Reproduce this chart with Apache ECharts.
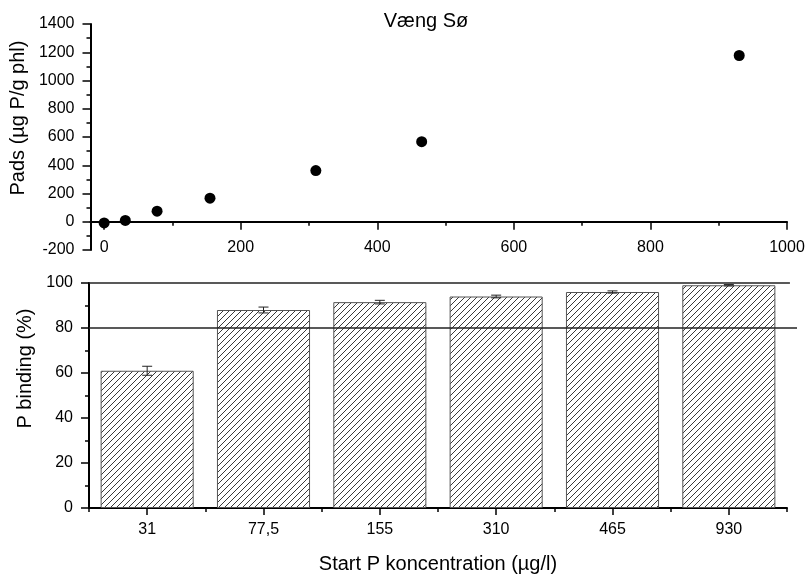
<!DOCTYPE html>
<html>
<head>
<meta charset="utf-8">
<script src="https://cdn.jsdelivr.net/npm/echarts@6/dist/echarts.min.js"></script>
<style>
  html, body { margin: 0; padding: 0; background: #fff; }
  #main { width: 809px; height: 575px; }
</style>
</head>
<body>
<div id="main"></div>
<script>
(function() {
  // data
  var startConc = [0, 31, 77.5, 155, 310, 465, 930];
  var pads = [-8, 9, 75, 167, 362, 567, 1177];
  var categories = ["31", "77,5", "155", "310", "465", "930"];
  var binding = [61, 88, 91.5, 94, 96, 99];
  var bindingErr = [2, 1.3, 0.8, 0.6, 0.5, 0.3];
  var refLines = [100, 80];
  var refLineEnds = [0.99, 1]; // share of the (slightly wider) overlay grid each line runs across
  var majorX = [0, 200, 400, 600, 800, 1000];
  var minorX = [100, 300, 500, 700, 900];

  var myChart = echarts.init(document.getElementById("main"));

  // diagonal hatching for the bars
  var hatch = (function() {
    var c = document.createElement("canvas");
    c.width = 6;
    c.height = 6;
    var g = c.getContext("2d");
    g.fillStyle = "#fff";
    g.fillRect(0, 0, 6, 6);
    g.strokeStyle = "#222";
    g.lineWidth = 0.9;
    g.beginPath();
    g.moveTo(0, 6); g.lineTo(6, 0);
    g.moveTo(-1, 1); g.lineTo(1, -1);
    g.moveTo(5, 7); g.lineTo(7, 5);
    g.stroke();
    return c;
  })();

  var font = "Liberation Sans, Arial, sans-serif";
  var axisLine = { lineStyle: { color: "#000", width: 2 } };
  var tickStyle = { color: "#000", width: 1.5 };
  var plain = function(v) { return String(v); };
  var labelStyle = { color: "#000", fontSize: 16, fontFamily: font, formatter: plain };

  var option = {
    animation: false,
    backgroundColor: "#fff",
    title: {
      text: "Væng Sø",
      left: 421,
      top: 6,
      textAlign: "center",
      textStyle: { color: "#000", fontWeight: "normal", fontSize: 20, fontFamily: font }
    },
    grid: [
      { left: 89, right: 22, top: 24, bottom: 325 },
      { left: 89, right: 22, top: 283, bottom: 67 },
      { left: 89, right: 12, top: 283, bottom: 67 }
    ],
    xAxis: [
      {
        type: "value", gridIndex: 0, min: -20, max: 1000,
        axisLine: { show: true, onZero: true, onZeroAxisIndex: 0, lineStyle: axisLine.lineStyle },
        axisTick: { show: true, length: 8, lineStyle: tickStyle, customValues: majorX },
        axisLabel: Object.assign({}, labelStyle, { margin: -10, customValues: majorX }),
        splitLine: { show: false }
      },
      {
        type: "value", gridIndex: 0, min: -20, max: 1000, position: "bottom",
        axisLine: { show: false, onZero: true, onZeroAxisIndex: 0 },
        axisTick: { show: true, length: 4, lineStyle: tickStyle, customValues: minorX },
        axisLabel: { show: false },
        splitLine: { show: false }
      },
      {
        type: "category", gridIndex: 1, data: categories, position: "bottom",
        axisLine: axisLine,
        axisTick: { show: true, alignWithLabel: true, length: 7, lineStyle: tickStyle },
        axisLabel: Object.assign({}, labelStyle, { margin: 14 }),
        name: "Start P koncentration (µg/l)",
        nameLocation: "middle",
        nameGap: 46,
        nameTextStyle: { color: "#000", fontSize: 20, fontFamily: font }
      },
      {
        type: "category", gridIndex: 1, data: categories, position: "bottom",
        axisLine: { show: false },
        axisTick: { show: true, alignWithLabel: false, length: 4, lineStyle: tickStyle },
        axisLabel: { show: false }
      },
      {
        type: "value", gridIndex: 2, min: 0, max: 1, show: false
      }
    ],
    yAxis: [
      {
        type: "value", gridIndex: 0, min: -200, max: 1400, interval: 200,
        axisLine: { show: true, onZero: false, lineStyle: axisLine.lineStyle },
        axisTick: { show: true, length: 8, lineStyle: tickStyle },
        minorTick: { show: true, splitNumber: 2, length: 4, lineStyle: tickStyle },
        axisLabel: Object.assign({}, labelStyle, { margin: 16 }),
        splitLine: { show: false },
        name: "Pads (µg P/g phl)",
        nameLocation: "middle",
        nameGap: 52,
        nameTextStyle: { color: "#000", fontSize: 20, fontFamily: font, padding: [0, 0, 0, 38] }
      },
      {
        type: "value", gridIndex: 1, min: 0, max: 100, interval: 20,
        axisLine: { show: true, onZero: false, lineStyle: axisLine.lineStyle },
        axisTick: { show: true, length: 8, lineStyle: tickStyle },
        minorTick: { show: true, splitNumber: 2, length: 4, lineStyle: tickStyle },
        axisLabel: Object.assign({}, labelStyle, { margin: 16 }),
        splitLine: { show: false },
        name: "P binding (%)",
        nameLocation: "middle",
        nameGap: 42,
        nameTextStyle: { color: "#000", fontSize: 20, fontFamily: font, padding: [0, 0, 0, 54] }
      },
      {
        type: "value", gridIndex: 2, min: 0, max: 100, show: false
      }
    ],
    series: [
      {
        type: "scatter",
        xAxisIndex: 0, yAxisIndex: 0,
        symbol: "circle",
        symbolSize: 11,
        itemStyle: { color: "#000", opacity: 1 },
        data: startConc.map(function(x, i) { return [x, pads[i]]; })
      },
      {
        type: "bar",
        xAxisIndex: 2, yAxisIndex: 1,
        barWidth: "80%",
        itemStyle: {
          color: { image: hatch, repeat: "repeat" },
          borderColor: "#555",
          borderWidth: 1
        },
        data: binding
      },
      {
        type: "custom",
        xAxisIndex: 2, yAxisIndex: 1,
        z: 5,
        renderItem: function(params, api) {
          var x = api.value(0);
          var lo = api.coord([x, api.value(1)]);
          var hi = api.coord([x, api.value(2)]);
          var w = 5;
          var st = { stroke: "#222", lineWidth: 1 };
          return {
            type: "group",
            children: [
              { type: "line", shape: { x1: lo[0], y1: lo[1], x2: hi[0], y2: hi[1] }, style: st },
              { type: "line", shape: { x1: lo[0] - w, y1: lo[1], x2: lo[0] + w, y2: lo[1] }, style: st },
              { type: "line", shape: { x1: hi[0] - w, y1: hi[1], x2: hi[0] + w, y2: hi[1] }, style: st }
            ]
          };
        },
        data: binding.map(function(v, i) { return [i, v - bindingErr[i], v + bindingErr[i]]; })
      },
      {
        // carrier for the two reference lines
        type: "line",
        xAxisIndex: 4, yAxisIndex: 2,
        showSymbol: false,
        symbol: "none",
        lineStyle: { opacity: 0 },
        z: 6,
        data: refLines.map(function(v) { return [0, v]; }),
        markLine: {
          silent: true,
          symbol: "none",
          animation: false,
          label: { show: false },
          lineStyle: { color: "#222", width: 1.5, type: "solid" },
          data: refLines.map(function(v, i) {
            return [{ coord: [0, v] }, { coord: [refLineEnds[i], v] }];
          })
        }
      }
    ]
  };
  myChart.setOption(option);

  window.addEventListener("resize", function() {
    myChart.resize();
  });
})();
</script>
</body>
</html>
